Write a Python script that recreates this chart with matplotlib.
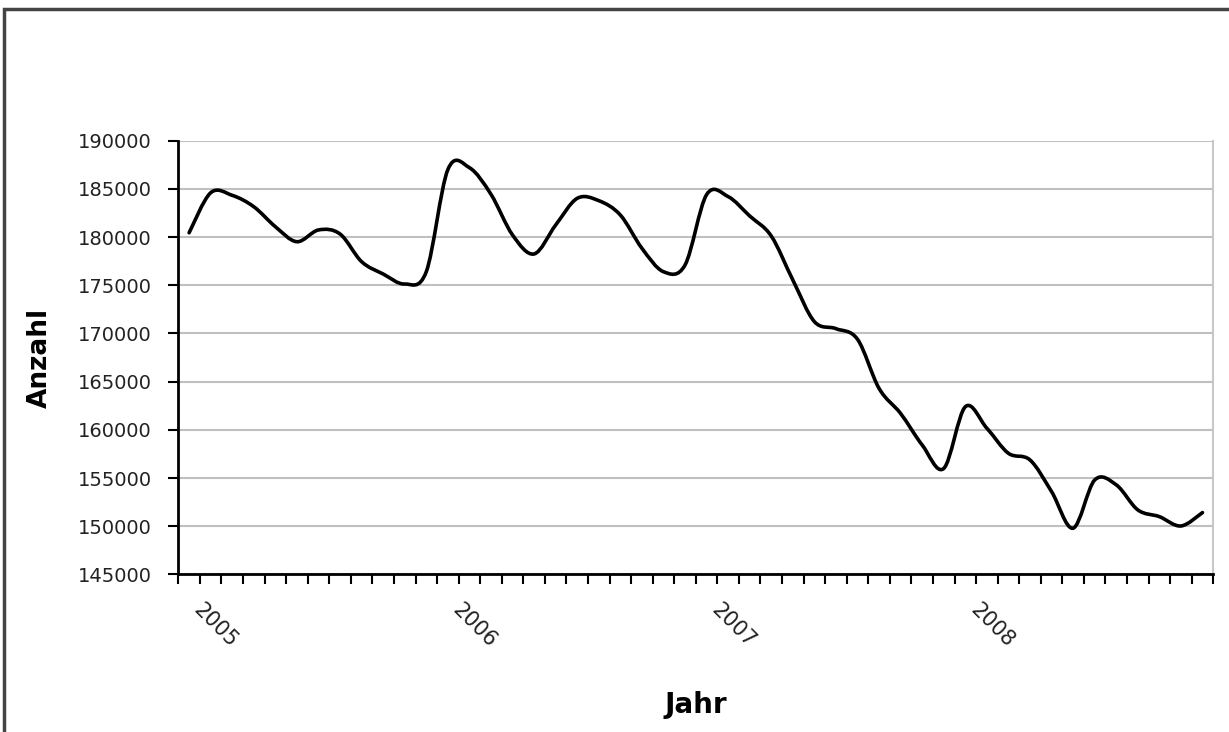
import numpy as np
import matplotlib.pyplot as plt
from matplotlib.path import Path
from matplotlib.patches import PathPatch, Rectangle
import matplotlib.transforms as mtransforms

plt.rcParams['font.family'] = ['DejaVu Sans']

# monthly values, Jan 2005 .. Dec 2008
werte = [180450, 184600, 184330, 183150, 181080, 179520, 180740, 180320,
         177450, 176170, 175130, 176410, 187000, 187200, 184440, 180220,
         178250, 181250, 184020, 183780, 182290, 178840, 176410, 177100,
         184400, 184200, 182190, 180110, 175550, 171230, 170500, 169400,
         164300, 161700, 158430, 156000, 162400, 160170, 157570, 156880,
         153600, 149800, 154800, 154300, 151700, 151000, 150030, 151420]
jahre = ['2005', '2006', '2007', '2008']
jahr_pos = [0, 12, 24, 36]
y_ticks = list(range(145000, 190001, 5000))

fig = plt.figure(figsize=(12.29, 7.32), dpi=100)
ax = fig.add_axes([0.1451, 0.2152, 0.8421, 0.5926])

# smoothed line like excel (bezier through the data points)
x = np.arange(len(werte), dtype=float)
y = np.array(werte, dtype=float)
pts = np.column_stack([x, y])
n = len(pts)
verts = [pts[0]]
codes = [Path.MOVETO]
for i in range(n - 1):
    p0 = pts[max(i - 1, 0)]
    p1 = pts[i]
    p2 = pts[i + 1]
    p3 = pts[min(i + 2, n - 1)]
    verts += [p1 + (p2 - p0) / 6.0, p2 - (p3 - p1) / 6.0, p2]
    codes += [Path.CURVE4] * 3
ax.add_patch(PathPatch(Path(verts, codes), fill=False, edgecolor='black',
                       lw=2.6, capstyle='round', joinstyle='round', zorder=3))

ax.set_xlim(-0.5, n - 0.5)
ax.set_ylim(145000, 190000)
ax.set_yticks(y_ticks)
ax.set_yticklabels([str(v) for v in y_ticks], fontsize=14, color='#222222')
ax.yaxis.grid(True, color='#c0c0c0', lw=1.5)
ax.set_axisbelow(True)

ax.set_xticks(np.arange(-0.5, n, 1.0), minor=True)
ax.set_xticks(jahr_pos)
ax.set_xticklabels(jahre, fontsize=15, rotation=-45, ha='left', va='center',
                   rotation_mode='anchor', color='#222222')
ax.tick_params(axis='x', which='major', length=0, pad=23)
ax.tick_params(axis='x', which='minor', length=7, width=1.5, direction='out')
ax.tick_params(axis='y', length=7, width=1.5, direction='out', pad=12)
offset = mtransforms.ScaledTranslation(8 / 100, 0, fig.dpi_scale_trans)
for lab in ax.get_xticklabels():
    lab.set_transform(lab.get_transform() + offset)

ax.spines['top'].set_visible(False)
ax.spines['right'].set_color('#c8c8c8')
ax.spines['right'].set_linewidth(1.5)
ax.spines['left'].set_linewidth(2)
ax.spines['bottom'].set_linewidth(2)

ax.set_ylabel('Anzahl', fontsize=19, fontweight='bold', labelpad=18)
ax.set_xlabel('Jahr', fontsize=20, fontweight='bold', labelpad=29)

# outer frame of the chart object (cut off at right and bottom)
fig.patches.append(Rectangle((4 / 1229, -0.1), 1.2, 1.1 - 9 / 732,
                             transform=fig.transFigure, fill=False,
                             edgecolor='#444444', lw=2.5))

plt.savefig('out.png', dpi=100)
